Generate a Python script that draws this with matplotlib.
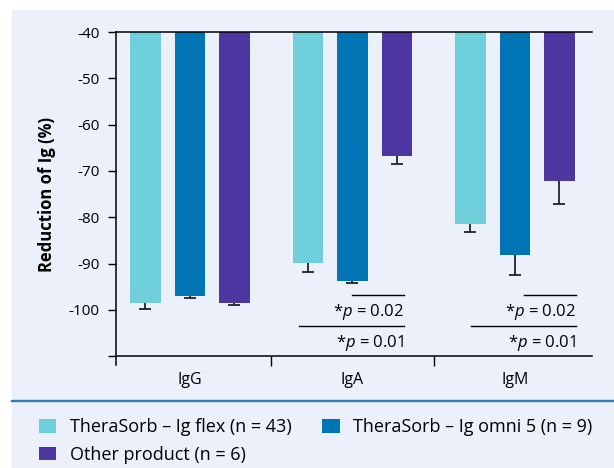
import matplotlib
matplotlib.use("Agg")
import matplotlib.pyplot as plt
import numpy as np
from matplotlib.patches import Patch, Rectangle
from matplotlib.lines import Line2D

# data
categories = ["IgG", "IgA", "IgM"]
series_names = ["TheraSorb \u2013 Ig flex (n = 43)",
                "TheraSorb \u2013 Ig omni 5 (n = 9)",
                "Other product (n = 6)"]
flex = [-98.4, -89.8, -81.4]
omni = [-96.9, -93.7, -88.1]
other = [-98.6, -66.7, -72.2]
flex_err = [1.4, 2.0, 1.8]
omni_err = [0.6, 0.4, 4.3]
other_err = [0.3, 1.9, 5.0]
sig_labels = ["*$p$ = 0.02", "*$p$ = 0.01"]
y_ticks = [-110, -100, -90, -80, -70, -60, -50, -40]

colors = ["#6FD0DC", "#0075B5", "#4C36A0"]
bg = "#ECF0FA"

plt.rcParams['font.family'] = ['Open Sans', 'DejaVu Sans']
plt.rcParams['mathtext.fontset'] = 'custom'
plt.rcParams['mathtext.it'] = 'Open Sans:italic'
plt.rcParams['mathtext.rm'] = 'Open Sans'

W, H = 614, 468
fig = plt.figure(figsize=(W / 100, H / 100), dpi=100, facecolor="white")

# background panel and separator
fig.patches.append(Rectangle((12 / W, 0), 1, (H - 10) / H, transform=fig.transFigure,
                             facecolor=bg, edgecolor="none", zorder=-10))
fig.lines.append(Line2D([12 / W, 1], [(H - 400.5) / H] * 2, transform=fig.transFigure,
                        color="#2F7DB5", lw=1.7))

ax = fig.add_axes([116 / W, (H - 356.3) / H, (592 - 116) / W, (356.3 - 32) / H])
ax.set_facecolor("none")

x = np.arange(len(categories))
offset = 0.274
width = 0.188
ekw = dict(ecolor="#222222", elinewidth=1.3, capsize=4.5, capthick=1.3)
for i, (vals, errs) in enumerate([(flex, flex_err), (omni, omni_err), (other, other_err)]):
    pos = x + (i - 1) * offset
    ax.bar(pos, vals, width, color=colors[i], zorder=2)
    eb = ax.errorbar(pos, vals, yerr=[errs, [0] * len(errs)], fmt="none", zorder=3, **ekw)
    eb[1][1].set_visible(False)  # only the lower cap

ax.set_xlim(-0.455, 2.474)
ax.set_ylim(-110, -40)
ax.set_yticks(y_ticks)
ax.set_yticklabels([""] + [str(t) for t in y_ticks[1:]])
ax.tick_params(axis="y", length=6, width=1, labelsize=11, pad=6, colors="black")
ax.set_xticks(x)
ax.set_xticklabels(categories, fontsize=11.5)
ax.tick_params(axis="x", which="major", length=0, pad=11)
ax.set_xticks([0.5, 1.5], minor=True)
ax.tick_params(axis="x", which="minor", length=7, width=1)
ax.set_ylabel("Reduction of Ig (%)", fontsize=12, fontweight="bold", labelpad=9)

for s in ["left", "bottom", "top"]:
    ax.spines[s].set_linewidth(1.1)
ax.spines["right"].set_visible(False)
ax.spines["left"].set_bounds(-111.9, -40)

# significance brackets (IgA, IgM)
sig_groups = [1, 2]
upper_span = [(-0.003, 0.319), (0.053, 0.377)]
lower_span = [(-0.327, 0.319), (-0.271, 0.377)]
for g, (u0, u1), (l0, l1) in zip(sig_groups, upper_span, lower_span):
    ax.plot([g + u0, g + u1], [-96.8, -96.8], color="black", lw=1, clip_on=False)
    ax.text(g + u1, -101.3, sig_labels[0], ha="right", va="baseline", fontsize=12)
    ax.plot([g + l0, g + l1], [-103.5, -103.5], color="black", lw=1, clip_on=False)
    ax.text(g + l1, -108.0, sig_labels[1], ha="right", va="baseline", fontsize=12)

handles = [Patch(facecolor=colors[0]), Patch(facecolor=colors[2]), Patch(facecolor=colors[1])]
labels = [series_names[0], series_names[2], series_names[1]]
fig.legend(handles, labels, ncol=2, loc="upper left", bbox_to_anchor=(32 / W, (H - 411) / H),
           frameon=False, fontsize=13, handlelength=0.95, handleheight=0.75,
           handletextpad=0.75, columnspacing=1.7, labelspacing=0.55, borderaxespad=0)

fig.savefig("out.png", dpi=100, facecolor="white")
